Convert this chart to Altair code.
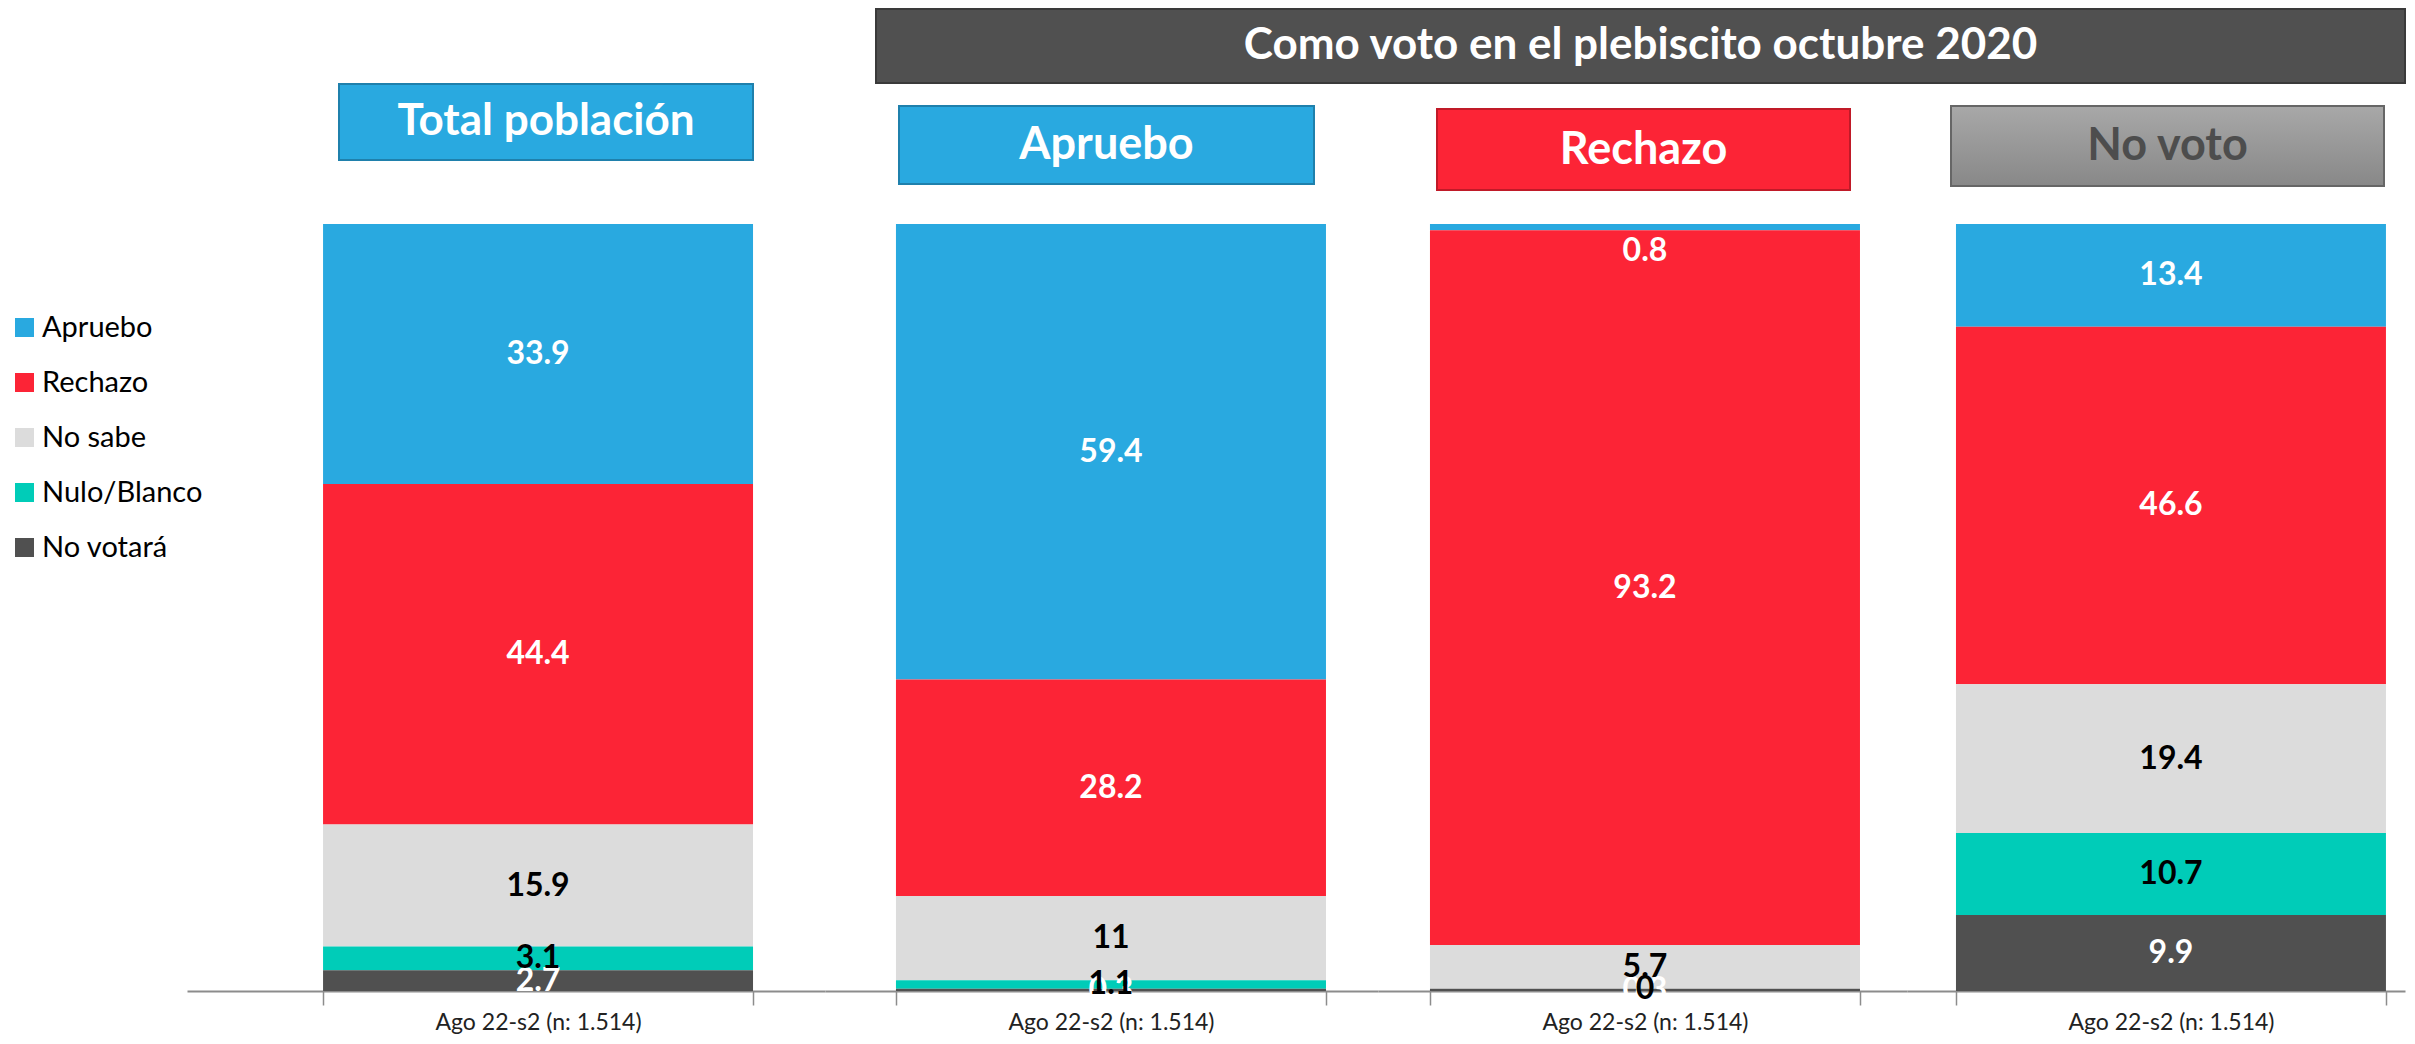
import altair as alt
import pandas as pd

# ---- data ----
categorias = ["Apruebo", "Rechazo", "No sabe", "Nulo/Blanco", "No votará"]
colores = ["#29A9E0", "#FC2436", "#DCDCDC", "#00CCB8", "#505050"]
total_poblacion = [33.9, 44.4, 15.9, 3.1, 2.7]
voto_apruebo = [59.4, 28.2, 11, 1.1, 0.3]
voto_rechazo = [0.8, 93.2, 5.7, 0, 0.3]
no_voto = [13.4, 46.6, 19.4, 10.7, 9.9]
periodo = "Ago 22-s2 (n: 1.514)"
encabezados = ["Total población", "Apruebo", "Rechazo", "No voto"]
titulo_grupo = "Como voto en el plebiscito octubre 2020"

ALTO = 767
FONT = "Lato"


def encabezado(texto, x0, x1, y0, y1, fill, stroke, color_texto, size, dy=0):
    d = pd.DataFrame({"texto": [texto]})
    rect = alt.Chart(d).mark_rect(fill=fill, stroke=stroke, strokeWidth=2).encode(
        x=alt.value(x0), x2=alt.value(x1), y=alt.value(y0), y2=alt.value(y1)
    )
    txt = alt.Chart(d).mark_text(
        font=FONT, fontWeight="bold", fontSize=size, color=color_texto,
        baseline="middle", align="center", dy=dy
    ).encode(x=alt.value((x0 + x1) / 2), y=alt.value((y0 + y1) / 2), text="texto:N")
    return [rect, txt]


def panel(valores, ancho, po, align, extras):
    df = pd.DataFrame({
        "periodo": [periodo] * len(categorias),
        "cat": categorias,
        "idx": list(range(len(categorias))),
        "valor": valores,
    })
    base = alt.Chart(df)
    x = alt.X(
        "periodo:N", title=None,
        scale=alt.Scale(paddingInner=0, paddingOuter=po, align=align),
        axis=alt.Axis(
            title=None, labelAngle=0, labelFont=FONT,
            labelFontSize=23, labelColor="#222222", labelPadding=6,
            labelLimit=500, domainColor="#8c8c8c",
            domainWidth=2, tickColor="#8c8c8c", tickWidth=1.5, tickSize=14,
            tickBand="extent",
        ),
    )
    yscale = alt.Scale(domain=[0, 100])
    barras = base.mark_bar().encode(
        x=x,
        y=alt.Y("valor:Q", stack="zero", scale=yscale, axis=None),
        color=alt.Color(
            "cat:N",
            scale=alt.Scale(domain=categorias, range=colores),
            legend=alt.Legend(
                title=None, orient="none", legendX=-177, legendY=89,
                symbolType="square", symbolSize=361, symbolStrokeWidth=0,
                labelFont=FONT, labelFontSize=29, labelColor="#000000",
                labelLimit=400, labelOffset=3, rowPadding=25, padding=0,
            ),
            sort=categorias,
        ),
        order=alt.Order("idx:Q", sort="descending"),
    )
    etiquetas = base.transform_stack(
        stack="valor", groupby=["periodo"],
        sort=[alt.SortField("idx", order="descending")], as_=["v0", "v1"],
    ).transform_calculate(
        mid="min((datum.v0 + datum.v1) / 2, 96.5)"
    ).mark_text(
        font=FONT, fontWeight="bold", fontSize=32, baseline="middle", align="center"
    ).encode(
        x=x,
        y=alt.Y("mid:Q", scale=yscale, axis=None),
        text=alt.Text("valor:Q"),
        color=alt.condition(
            "datum.cat == 'No sabe' || datum.cat == 'Nulo/Blanco'",
            alt.value("#000000"), alt.value("#ffffff"),
        ),
        order=alt.Order("idx:Q", sort="descending"),
    )
    return alt.layer(barras, etiquetas, *extras).properties(width=ancho, height=ALTO)


gris = alt.LinearGradient(
    gradient="linear",
    stops=[alt.GradientStop(color="#a8a8a8", offset=0),
           alt.GradientStop(color="#888888", offset=1)],
    x1=0, x2=0, y1=0, y2=1,
)

p1 = panel(total_poblacion, 638, 0.2419, 0.654,
           encabezado(encabezados[0], 152, 566, -140, -64, "#29A9E0", "#1F80AC", "#ffffff", 44))
p2 = panel(voto_apruebo, 553, 0.143, 0.577,
           encabezado(titulo_grupo, 51, 1580, -215, -141, "#505050", "#3a3a3a", "#ffffff", 44)
           + encabezado(encabezados[1], 74, 489, -118, -40, "#29A9E0", "#1F80AC", "#ffffff", 45))
p3 = panel(voto_rechazo, 529, 0.1151, 0.525,
           encabezado(encabezados[2], 59, 472, -115, -34, "#FC2436", "#C01A28", "#ffffff", 45))
p4 = panel(no_voto, 498, 0.0791, 0.72,
           encabezado(encabezados[3], 44, 477, -118, -38, gris, "#666666", "#4d4d4d", 45))

chart = alt.hconcat(p1, p2, p3, p4, spacing=0, bounds="flush").properties(
    padding={"left": 2, "top": 0, "right": 0, "bottom": 0}
).configure_view(strokeWidth=0)

chart.save("out.html", embed_options={"renderer": "svg", "actions": False})
